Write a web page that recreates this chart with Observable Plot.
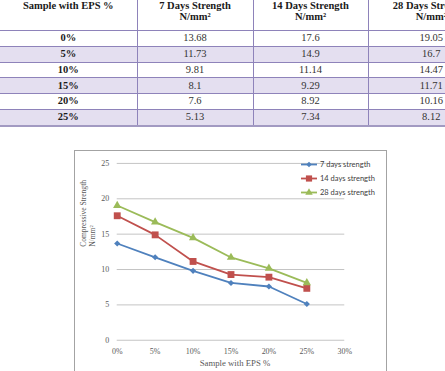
<!DOCTYPE html>
<html>
<head>
<meta charset="utf-8">
<script src="https://cdn.jsdelivr.net/npm/d3@7"></script>
<script src="https://cdn.jsdelivr.net/npm/@observablehq/plot@0.6"></script>
<style>
  html, body { margin: 0; padding: 0; background: #fff; width: 445px; height: 371px; overflow: hidden; }
  #tbl { position: absolute; left: 0; top: 0; border-collapse: collapse; table-layout: fixed; width: 494px;
         font-family: "Liberation Serif", "Times New Roman", serif; }
  #tbl th { font-weight: bold; font-size: 10.5px; line-height: 11px; vertical-align: top; height: 30px;
            padding: 0; color: #1a1a1a; border-bottom: 1px solid #8e83ba; }
  #tbl td { height: 14.75px; padding: 0; text-align: center; font-size: 10.5px; line-height: 12px; color: #333;
            border-bottom: 1px solid #8e83ba; }
  #tbl td:first-child { font-weight: bold; color: #1a1a1a; }
  #tbl th + th, #tbl td + td { border-left: 1px solid #8e83ba; }
  #tbl tr.alt td { background: #e4dff0; }
  #tbl tr:last-child td { border-bottom: 2px solid #a29ac2; }
  #chart { position: absolute; left: 74px; top: 150px; width: 313px; height: 240px; box-sizing: border-box;
           border: 1px solid #a3a3a3; background: #fff; }
  #chart svg { position: absolute; left: -1px; top: -1px; }
  #legend { position: absolute; left: 301px; top: 158px; font-family: Lato, "Open Sans", sans-serif;
            font-size: 7.5px; color: #404040; }
  #legend .item { height: 13.7px; display: flex; align-items: center; }
  #legend svg { margin-right: 2px; }
</style>
</head>
<body>
<table id="tbl">
  <colgroup><col style="width:137px"><col style="width:116px"><col style="width:115px"><col style="width:126px"></colgroup>
  <thead><tr id="head"></tr></thead>
  <tbody id="body"></tbody>
</table>
<div id="chart"></div>
<div id="legend"></div>
<script>
// EPS replacement levels and compressive strength results (N/mm²)
const eps = [0, 5, 10, 15, 20, 25];
const epsLabels = ["0%", "5%", "10%", "15%", "20%", "25%"];
const strength7 = [13.68, 11.73, 9.81, 8.1, 7.6, 5.13];
const strength14 = [17.6, 14.9, 11.14, 9.29, 8.92, 7.34];
const strength28 = [19.05, 16.7, 14.47, 11.71, 10.16, 8.12];

const columnHeads = ["Sample with EPS %", "7 Days Strength", "14 Days Strength", "28 Days Strength"];
const unit = "N/mm²";

const seriesNames = ["7 days strength", "14 days strength", "28 days strength"];
const seriesColors = ["#4f81bd", "#c0504d", "#9bbb59"];
const seriesSymbols = ["diamond2", "square", "triangle"];
const seriesRadii = [2.8, 3.9, 3.1];

const yTicks = [0, 5, 10, 15, 20, 25];
const xTicks = [0, 5, 10, 15, 20, 25, 30];
const xTitle = "Sample with EPS %";
const yTitle = "Compressive Strength\nN/mm²";

const seriesValues = [strength7, strength14, strength28];

// ---- table ----
const head = document.getElementById("head");
columnHeads.forEach((h, i) => {
  const th = document.createElement("th");
  th.innerHTML = i === 0 ? h : `${h}<br>${unit}`;
  head.appendChild(th);
});
const body = document.getElementById("body");
epsLabels.forEach((lab, r) => {
  const tr = document.createElement("tr");
  if (r % 2 === 1) tr.className = "alt";
  [lab, ...seriesValues.map(v => String(v[r]))].forEach(t => {
    const td = document.createElement("td");
    td.textContent = t;
    tr.appendChild(td);
  });
  body.appendChild(tr);
});

// ---- chart ----
const rows = seriesNames.flatMap((name, s) =>
  eps.map((e, i) => ({series: name, eps: e, value: seriesValues[s][i]})));

const seriesMarks = seriesNames.flatMap((name, s) => {
  const d = rows.filter(r => r.series === name);
  return [
    Plot.line(d, {x: "eps", y: "value", stroke: "series", strokeWidth: 1.8}),
    Plot.dot(d, {x: "eps", y: "value", symbol: "series", fill: "series", stroke: "none", r: seriesRadii[s]})
  ];
});

const chart = Plot.plot({
  width: 313,
  height: 230,
  marginLeft: 43,
  marginRight: 41,
  marginTop: 13,
  marginBottom: 39,
  style: {fontFamily: "'Liberation Serif', serif", fontSize: "8px", color: "#595959", background: "transparent", overflow: "visible"},
  x: {domain: [0, 30]},
  y: {domain: [0, 25]},
  color: {domain: seriesNames, range: seriesColors},
  symbol: {domain: seriesNames, range: seriesSymbols},
  marks: [
    Plot.gridY(yTicks, {stroke: "#c4c4c4", strokeOpacity: 1}),
    Plot.axisY(yTicks, {tickSize: 0, tickPadding: 8, label: null, fill: "#595959"}),
    Plot.axisX(xTicks, {tickSize: 0, tickPadding: 8, label: null, fill: "#595959", tickFormat: d => `${d}%`}),
    ...seriesMarks,
    Plot.text([xTitle], {text: d => d, frameAnchor: "bottom", dy: 25.5, dx: 4, fill: "#595959", fontSize: 8.8}),
    Plot.text([yTitle], {text: d => d, frameAnchor: "left", rotate: -90, dx: -30, dy: -5, lineHeight: 1.3, fill: "#595959", fontSize: 7.6})
  ]
});
document.getElementById("chart").appendChild(chart);

// ---- legend ----
const legend = d3.select("#legend");
seriesNames.forEach((name, s) => {
  const item = legend.append("div").attr("class", "item");
  const sw = item.append("svg").attr("width", 17).attr("height", 9);
  sw.append("line").attr("x1", 0).attr("x2", 16).attr("y1", 4.5).attr("y2", 4.5)
    .attr("stroke", seriesColors[s]).attr("stroke-width", 1.8);
  const sym = [d3.symbolDiamond2, d3.symbolSquare, d3.symbolTriangle][s];
  sw.append("path").attr("transform", "translate(8,4.5)")
    .attr("d", d3.symbol(sym, Math.PI * seriesRadii[s] * seriesRadii[s] * 0.8)())
    .attr("fill", seriesColors[s]);
  item.append("span").text(name);
});
</script>
</body>
</html>
